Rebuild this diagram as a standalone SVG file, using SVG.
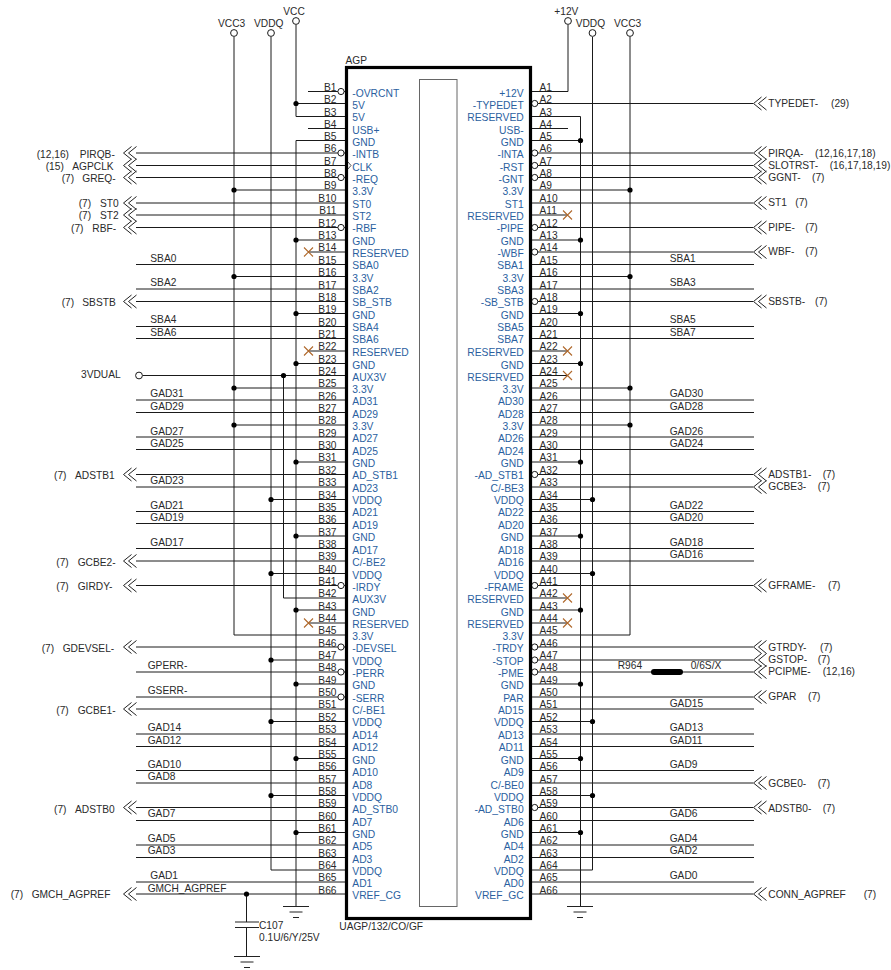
<svg xmlns="http://www.w3.org/2000/svg" width="891" height="970" viewBox="0 0 891 970">
<style>
text{font-family:"Liberation Sans",Arial,sans-serif;font-size:10.2px;fill:#2a2a2a}
.e{text-anchor:end}
.p{fill:#2b5f9f;font-size:10.3px}
.w{fill:none;stroke:#1a1a1a;stroke-width:1}
.x{fill:none;stroke:#b0692c;stroke-width:1.1}
.o{fill:#fff;stroke:#1a1a1a;stroke-width:1}
.h{fill:none;stroke:#222;stroke-width:1}
.d{fill:#000}
</style>
<defs>
<path id="chev" d="M8 -6.5L0 0L8 6.5M13 -6.5L5 0L13 6.5"/>
<circle id="bub" r="3.1"/>
<circle id="dot" r="2.6"/>
<path id="nc" d="M-4.5 -4.5L4.5 4.5M-4.5 4.5L4.5 -4.5"/>
<path id="gnd" d="M-13 0H13M-6.5 5.5H6.5M-3 11H3"/>
</defs>
<g id="connectors">
<path class="w" d="M234 37V635H345M271 37V870H345M296 25V116.5H345M296 103.5H345M296 140.5V906M296 140.5H345M283.5 375.5V598H345
M308 91.5H345M308 128.5H345M234 190H345M234 276.5H345M234 388H345M234 425H345
M296 240H345M296 313.5H345M296 363.5H345M296 462H345M296 536H345M296 610H345M296 684H345M296 758.5H345M296 832.5H345
M271 499.5H345M271 573.5H345M271 660H345M271 721.5H345M271 795.5H345
M308 252H345M308 351H345M308 623H345M142.5 375.5H345
M136 153H345M136 165.5H345M136 177.5H345M136 203H345M136 215H345M136 227.5H345M136 301.5H345M136 474.5H345M136 561H345M136 585.5H345M136 647H345M136 709H345M136 807.5H345M136 894H345
M136 264.5H345M136 289H345M136 326.5H345M136 338.5H345M136 400H345M136 412.5H345M136 437H345M136 449.5H345M136 487H345M136 511.5H345M136 523.5H345M136 548.5H345M136 672H345M136 697H345M136 734H345M136 746.5H345M136 770.5H345M136 783H345M136 820.5H345M136 845H345M136 857.5H345M136 882H345
M568 25V91.5H531M592.5 37V870H531M630 37V635H531M580.5 116.5V906M580.5 116.5H531
M531 128.5H568M531 140.5H580.5M531 240H580.5M531 313.5H580.5M531 363.5H580.5M531 462H580.5M531 536H580.5M531 610H580.5M531 684H580.5M531 758.5H580.5M531 832.5H580.5
M531 190H630M531 276.5H630M531 388H630M531 425H630
M531 499.5H592.5M531 573.5H592.5M531 721.5H592.5M531 795.5H592.5
M531 215H568M531 351H568M531 375.5H568M531 598H568M531 623H568
M531 103.5H753M531 153H753M531 165.5H753M531 177.5H753M531 203H753M531 227.5H753M531 252H753M531 301.5H753M531 474.5H753M531 487H753M531 585.5H753M531 647H753M531 660H753M531 672H753M531 697H753M531 783H753M531 807.5H753M531 894H753
M531 264.5H754M531 289H754M531 326.5H754M531 338.5H754M531 400H754M531 412.5H754M531 437H754M531 449.5H754M531 511.5H754M531 523.5H754M531 548.5H754M531 561H754M531 709H754M531 734H754M531 746.5H754M531 770.5H754M531 820.5H754M531 845H754M531 857.5H754M531 882H754
M246.5 894V922M246.5 927.5V956"/>
</g>
<g id="junctions" class="d">
<use href="#dot" x="296" y="103.5"/><use href="#dot" x="234" y="190"/><use href="#dot" x="234" y="276.5"/><use href="#dot" x="234" y="388"/><use href="#dot" x="234" y="425"/>
<use href="#dot" x="296" y="240"/><use href="#dot" x="296" y="313.5"/><use href="#dot" x="296" y="363.5"/><use href="#dot" x="296" y="462"/><use href="#dot" x="296" y="536"/><use href="#dot" x="296" y="610"/><use href="#dot" x="296" y="684"/><use href="#dot" x="296" y="758.5"/><use href="#dot" x="296" y="832.5"/>
<use href="#dot" x="271" y="499.5"/><use href="#dot" x="271" y="573.5"/><use href="#dot" x="271" y="660"/><use href="#dot" x="271" y="721.5"/><use href="#dot" x="271" y="795.5"/><use href="#dot" x="283.5" y="375.5"/>
<use href="#dot" x="580.5" y="140.5"/><use href="#dot" x="580.5" y="240"/><use href="#dot" x="580.5" y="313.5"/><use href="#dot" x="580.5" y="363.5"/><use href="#dot" x="580.5" y="462"/><use href="#dot" x="580.5" y="536"/><use href="#dot" x="580.5" y="610"/><use href="#dot" x="580.5" y="684"/><use href="#dot" x="580.5" y="758.5"/><use href="#dot" x="580.5" y="832.5"/>
<use href="#dot" x="630" y="190"/><use href="#dot" x="630" y="276.5"/><use href="#dot" x="630" y="388"/><use href="#dot" x="630" y="425"/>
<use href="#dot" x="592.5" y="499.5"/><use href="#dot" x="592.5" y="573.5"/><use href="#dot" x="592.5" y="721.5"/><use href="#dot" x="592.5" y="795.5"/>
<use href="#dot" x="246.5" y="894"/>
</g>
<g id="no-connects" class="x">
<use href="#nc" x="308.5" y="252"/><use href="#nc" x="308.5" y="351"/><use href="#nc" x="308.5" y="623"/>
<use href="#nc" x="567.5" y="215"/><use href="#nc" x="567.5" y="351"/><use href="#nc" x="567.5" y="375.5"/><use href="#nc" x="567.5" y="598"/><use href="#nc" x="567.5" y="623"/>
</g>
<g id="offpage-arrows" class="h">
<use href="#chev" x="123.5" y="153"/><use href="#chev" x="123.5" y="165.5"/><use href="#chev" x="123.5" y="177.5"/><use href="#chev" x="123.5" y="203"/><use href="#chev" x="123.5" y="215"/><use href="#chev" x="123.5" y="227.5"/><use href="#chev" x="123.5" y="301.5"/><use href="#chev" x="123.5" y="474.5"/><use href="#chev" x="123.5" y="561"/><use href="#chev" x="123.5" y="585.5"/><use href="#chev" x="123.5" y="647"/><use href="#chev" x="123.5" y="709"/><use href="#chev" x="123.5" y="807.5"/><use href="#chev" x="123.5" y="894"/>
<use href="#chev" x="753.5" y="103.5"/><use href="#chev" x="753.5" y="153"/><use href="#chev" x="753.5" y="165.5"/><use href="#chev" x="753.5" y="177.5"/><use href="#chev" x="753.5" y="203"/><use href="#chev" x="753.5" y="227.5"/><use href="#chev" x="753.5" y="252"/><use href="#chev" x="753.5" y="301.5"/><use href="#chev" x="753.5" y="474.5"/><use href="#chev" x="753.5" y="487"/><use href="#chev" x="753.5" y="585.5"/><use href="#chev" x="753.5" y="647"/><use href="#chev" x="753.5" y="660"/><use href="#chev" x="753.5" y="672"/><use href="#chev" x="753.5" y="697"/><use href="#chev" x="753.5" y="783"/><use href="#chev" x="753.5" y="807.5"/><use href="#chev" x="753.5" y="894"/>
</g>
<g id="U-AGP">
<g class="o">
<use href="#bub" x="341" y="91.5"/><use href="#bub" x="341" y="153"/><use href="#bub" x="341" y="177.5"/><use href="#bub" x="341" y="227.5"/><use href="#bub" x="341" y="585.5"/><use href="#bub" x="341" y="647"/><use href="#bub" x="341" y="672"/><use href="#bub" x="341" y="697"/>
<use href="#bub" x="534.7" y="103.5"/><use href="#bub" x="534.7" y="153"/><use href="#bub" x="534.7" y="165.5"/><use href="#bub" x="534.7" y="177.5"/><use href="#bub" x="534.7" y="227.5"/><use href="#bub" x="534.7" y="252"/><use href="#bub" x="534.7" y="301.5"/><use href="#bub" x="534.7" y="474.5"/><use href="#bub" x="534.7" y="585.5"/><use href="#bub" x="534.7" y="647"/><use href="#bub" x="534.7" y="660"/><use href="#bub" x="534.7" y="672"/><use href="#bub" x="534.7" y="807.5"/>
</g>
<rect x="346.5" y="67.5" width="184" height="851" fill="#fff" stroke="#000" stroke-width="3.2"/>
<rect x="419.5" y="79.5" width="37.5" height="827" fill="#fff" stroke="#666" stroke-width="1"/>
<path d="M348 162L351 165.5L348 169" fill="none" stroke="#222" stroke-width="0.8"/>
<text x="345.5" y="64">AGP</text>
<text x="339.3" y="930">UAGP/132/CO/GF</text>
<g class="pn">
<text class="e" x="336.5" y="91">B1</text><text class="e" x="336.5" y="103">B2</text><text class="e" x="336.5" y="116">B3</text><text class="e" x="336.5" y="128">B4</text><text class="e" x="336.5" y="140">B5</text><text class="e" x="336.5" y="152">B6</text><text class="e" x="336.5" y="165">B7</text><text class="e" x="336.5" y="177">B8</text><text class="e" x="336.5" y="189">B9</text><text class="e" x="336.5" y="202">B10</text><text class="e" x="336.5" y="214">B11</text><text class="e" x="336.5" y="227">B12</text><text class="e" x="336.5" y="239">B13</text><text class="e" x="336.5" y="251">B14</text><text class="e" x="336.5" y="264">B15</text><text class="e" x="336.5" y="276">B16</text><text class="e" x="336.5" y="289">B17</text><text class="e" x="336.5" y="301">B18</text><text class="e" x="336.5" y="313">B19</text><text class="e" x="336.5" y="326">B20</text><text class="e" x="336.5" y="338">B21</text><text class="e" x="336.5" y="350">B22</text><text class="e" x="336.5" y="363">B23</text><text class="e" x="336.5" y="375">B24</text><text class="e" x="336.5" y="387">B25</text><text class="e" x="336.5" y="400">B26</text><text class="e" x="336.5" y="412">B27</text><text class="e" x="336.5" y="424">B28</text><text class="e" x="336.5" y="437">B29</text><text class="e" x="336.5" y="449">B30</text><text class="e" x="336.5" y="461">B31</text><text class="e" x="336.5" y="474">B32</text><text class="e" x="336.5" y="486">B33</text><text class="e" x="336.5" y="499">B34</text><text class="e" x="336.5" y="511">B35</text><text class="e" x="336.5" y="523">B36</text><text class="e" x="336.5" y="536">B37</text><text class="e" x="336.5" y="548">B38</text><text class="e" x="336.5" y="560">B39</text><text class="e" x="336.5" y="573">B40</text><text class="e" x="336.5" y="585">B41</text><text class="e" x="336.5" y="597">B42</text><text class="e" x="336.5" y="610">B43</text><text class="e" x="336.5" y="622">B44</text><text class="e" x="336.5" y="634">B45</text><text class="e" x="336.5" y="647">B46</text><text class="e" x="336.5" y="659">B47</text><text class="e" x="336.5" y="671">B48</text><text class="e" x="336.5" y="684">B49</text><text class="e" x="336.5" y="696">B50</text><text class="e" x="336.5" y="708">B51</text><text class="e" x="336.5" y="721">B52</text><text class="e" x="336.5" y="733">B53</text><text class="e" x="336.5" y="746">B54</text><text class="e" x="336.5" y="758">B55</text><text class="e" x="336.5" y="770">B56</text><text class="e" x="336.5" y="783">B57</text><text class="e" x="336.5" y="795">B58</text><text class="e" x="336.5" y="807">B59</text><text class="e" x="336.5" y="820">B60</text><text class="e" x="336.5" y="832">B61</text><text class="e" x="336.5" y="844">B62</text><text class="e" x="336.5" y="857">B63</text><text class="e" x="336.5" y="869">B64</text><text class="e" x="336.5" y="881">B65</text><text class="e" x="336.5" y="894">B66</text>
<text x="539.5" y="91">A1</text><text x="539.5" y="103">A2</text><text x="539.5" y="116">A3</text><text x="539.5" y="128">A4</text><text x="539.5" y="140">A5</text><text x="539.5" y="152">A6</text><text x="539.5" y="165">A7</text><text x="539.5" y="177">A8</text><text x="539.5" y="189">A9</text><text x="539.5" y="202">A10</text><text x="539.5" y="214">A11</text><text x="539.5" y="227">A12</text><text x="539.5" y="239">A13</text><text x="539.5" y="251">A14</text><text x="539.5" y="264">A15</text><text x="539.5" y="276">A16</text><text x="539.5" y="289">A17</text><text x="539.5" y="301">A18</text><text x="539.5" y="313">A19</text><text x="539.5" y="326">A20</text><text x="539.5" y="338">A21</text><text x="539.5" y="350">A22</text><text x="539.5" y="363">A23</text><text x="539.5" y="375">A24</text><text x="539.5" y="387">A25</text><text x="539.5" y="400">A26</text><text x="539.5" y="412">A27</text><text x="539.5" y="424">A28</text><text x="539.5" y="437">A29</text><text x="539.5" y="449">A30</text><text x="539.5" y="461">A31</text><text x="539.5" y="474">A32</text><text x="539.5" y="486">A33</text><text x="539.5" y="499">A34</text><text x="539.5" y="511">A35</text><text x="539.5" y="523">A36</text><text x="539.5" y="536">A37</text><text x="539.5" y="548">A38</text><text x="539.5" y="560">A39</text><text x="539.5" y="573">A40</text><text x="539.5" y="585">A41</text><text x="539.5" y="597">A42</text><text x="539.5" y="610">A43</text><text x="539.5" y="622">A44</text><text x="539.5" y="634">A45</text><text x="539.5" y="647">A46</text><text x="539.5" y="659">A47</text><text x="539.5" y="671">A48</text><text x="539.5" y="684">A49</text><text x="539.5" y="696">A50</text><text x="539.5" y="708">A51</text><text x="539.5" y="721">A52</text><text x="539.5" y="733">A53</text><text x="539.5" y="746">A54</text><text x="539.5" y="758">A55</text><text x="539.5" y="770">A56</text><text x="539.5" y="783">A57</text><text x="539.5" y="795">A58</text><text x="539.5" y="807">A59</text><text x="539.5" y="820">A60</text><text x="539.5" y="832">A61</text><text x="539.5" y="844">A62</text><text x="539.5" y="857">A63</text><text x="539.5" y="869">A64</text><text x="539.5" y="881">A65</text><text x="539.5" y="894">A66</text>
</g>
<g>
<text class="p" x="352.3" y="97">-OVRCNT</text><text class="p" x="352.3" y="109">5V</text><text class="p" x="352.3" y="121">5V</text><text class="p" x="352.3" y="134">USB+</text><text class="p" x="352.3" y="146">GND</text><text class="p" x="352.3" y="158">-INTB</text><text class="p" x="352.3" y="171">CLK</text><text class="p" x="352.3" y="183">-REQ</text><text class="p" x="352.3" y="195">3.3V</text><text class="p" x="352.3" y="208">ST0</text><text class="p" x="352.3" y="220">ST2</text><text class="p" x="352.3" y="232">-RBF</text><text class="p" x="352.3" y="245">GND</text><text class="p" x="352.3" y="257">RESERVED</text><text class="p" x="352.3" y="269">SBA0</text><text class="p" x="352.3" y="282">3.3V</text><text class="p" x="352.3" y="294">SBA2</text><text class="p" x="352.3" y="306">SB_STB</text><text class="p" x="352.3" y="319">GND</text><text class="p" x="352.3" y="331">SBA4</text><text class="p" x="352.3" y="343">SBA6</text><text class="p" x="352.3" y="356">RESERVED</text><text class="p" x="352.3" y="369">GND</text><text class="p" x="352.3" y="381">AUX3V</text><text class="p" x="352.3" y="393">3.3V</text><text class="p" x="352.3" y="405">AD31</text><text class="p" x="352.3" y="418">AD29</text><text class="p" x="352.3" y="430">3.3V</text><text class="p" x="352.3" y="442">AD27</text><text class="p" x="352.3" y="455">AD25</text><text class="p" x="352.3" y="467">GND</text><text class="p" x="352.3" y="479">AD_STB1</text><text class="p" x="352.3" y="492">AD23</text><text class="p" x="352.3" y="504">VDDQ</text><text class="p" x="352.3" y="516">AD21</text><text class="p" x="352.3" y="529">AD19</text><text class="p" x="352.3" y="541">GND</text><text class="p" x="352.3" y="554">AD17</text><text class="p" x="352.3" y="566">C/-BE2</text><text class="p" x="352.3" y="579">VDDQ</text><text class="p" x="352.3" y="591">-IRDY</text><text class="p" x="352.3" y="603">AUX3V</text><text class="p" x="352.3" y="616">GND</text><text class="p" x="352.3" y="628">RESERVED</text><text class="p" x="352.3" y="640">3.3V</text><text class="p" x="352.3" y="652">-DEVSEL</text><text class="p" x="352.3" y="665">VDDQ</text><text class="p" x="352.3" y="677">-PERR</text><text class="p" x="352.3" y="689">GND</text><text class="p" x="352.3" y="702">-SERR</text><text class="p" x="352.3" y="714">C/-BE1</text><text class="p" x="352.3" y="726">VDDQ</text><text class="p" x="352.3" y="739">AD14</text><text class="p" x="352.3" y="751">AD12</text><text class="p" x="352.3" y="764">GND</text><text class="p" x="352.3" y="776">AD10</text><text class="p" x="352.3" y="789">AD8</text><text class="p" x="352.3" y="801">VDDQ</text><text class="p" x="352.3" y="813">AD_STB0</text><text class="p" x="352.3" y="826">AD7</text><text class="p" x="352.3" y="838">GND</text><text class="p" x="352.3" y="850">AD5</text><text class="p" x="352.3" y="863">AD3</text><text class="p" x="352.3" y="875">VDDQ</text><text class="p" x="352.3" y="887">AD1</text><text class="p" x="352.3" y="899">VREF_CG</text>
<text class="p e" x="523.7" y="97">+12V</text><text class="p e" x="523.7" y="109">-TYPEDET</text><text class="p e" x="523.7" y="121">RESERVED</text><text class="p e" x="523.7" y="134">USB-</text><text class="p e" x="523.7" y="146">GND</text><text class="p e" x="523.7" y="158">-INTA</text><text class="p e" x="523.7" y="171">-RST</text><text class="p e" x="523.7" y="183">-GNT</text><text class="p e" x="523.7" y="195">3.3V</text><text class="p e" x="523.7" y="208">ST1</text><text class="p e" x="523.7" y="220">RESERVED</text><text class="p e" x="523.7" y="232">-PIPE</text><text class="p e" x="523.7" y="245">GND</text><text class="p e" x="523.7" y="257">-WBF</text><text class="p e" x="523.7" y="269">SBA1</text><text class="p e" x="523.7" y="282">3.3V</text><text class="p e" x="523.7" y="294">SBA3</text><text class="p e" x="523.7" y="306">-SB_STB</text><text class="p e" x="523.7" y="319">GND</text><text class="p e" x="523.7" y="331">SBA5</text><text class="p e" x="523.7" y="343">SBA7</text><text class="p e" x="523.7" y="356">RESERVED</text><text class="p e" x="523.7" y="369">GND</text><text class="p e" x="523.7" y="381">RESERVED</text><text class="p e" x="523.7" y="393">3.3V</text><text class="p e" x="523.7" y="405">AD30</text><text class="p e" x="523.7" y="418">AD28</text><text class="p e" x="523.7" y="430">3.3V</text><text class="p e" x="523.7" y="442">AD26</text><text class="p e" x="523.7" y="455">AD24</text><text class="p e" x="523.7" y="467">GND</text><text class="p e" x="523.7" y="479">-AD_STB1</text><text class="p e" x="523.7" y="492">C/-BE3</text><text class="p e" x="523.7" y="504">VDDQ</text><text class="p e" x="523.7" y="516">AD22</text><text class="p e" x="523.7" y="529">AD20</text><text class="p e" x="523.7" y="541">GND</text><text class="p e" x="523.7" y="554">AD18</text><text class="p e" x="523.7" y="566">AD16</text><text class="p e" x="523.7" y="579">VDDQ</text><text class="p e" x="523.7" y="591">-FRAME</text><text class="p e" x="523.7" y="603">RESERVED</text><text class="p e" x="523.7" y="616">GND</text><text class="p e" x="523.7" y="628">RESERVED</text><text class="p e" x="523.7" y="640">3.3V</text><text class="p e" x="523.7" y="652">-TRDY</text><text class="p e" x="523.7" y="665">-STOP</text><text class="p e" x="523.7" y="677">-PME</text><text class="p e" x="523.7" y="689">GND</text><text class="p e" x="523.7" y="702">PAR</text><text class="p e" x="523.7" y="714">AD15</text><text class="p e" x="523.7" y="726">VDDQ</text><text class="p e" x="523.7" y="739">AD13</text><text class="p e" x="523.7" y="751">AD11</text><text class="p e" x="523.7" y="764">GND</text><text class="p e" x="523.7" y="776">AD9</text><text class="p e" x="523.7" y="789">C/-BE0</text><text class="p e" x="523.7" y="801">VDDQ</text><text class="p e" x="523.7" y="813">-AD_STB0</text><text class="p e" x="523.7" y="826">AD6</text><text class="p e" x="523.7" y="838">GND</text><text class="p e" x="523.7" y="850">AD4</text><text class="p e" x="523.7" y="863">AD2</text><text class="p e" x="523.7" y="875">VDDQ</text><text class="p e" x="523.7" y="887">AD0</text><text class="p e" x="523.7" y="899">VREF_GC</text>
</g>
</g>
<g id="power-left">
<circle class="o" cx="234" cy="33" r="3.4"/><text x="218" y="27.3">VCC3</text>
<circle class="o" cx="271" cy="33" r="3.4"/><text x="254" y="27.3">VDDQ</text>
<circle class="o" cx="296" cy="21" r="3.4"/><text x="283.3" y="15">VCC</text>
<circle class="o" cx="139" cy="375.5" r="3.4"/><text x="81" y="378">3VDUAL</text>
</g>
<g id="power-right">
<circle class="o" cx="568" cy="21" r="3.4"/><text x="554.3" y="15">+12V</text>
<circle class="o" cx="592.5" cy="33" r="3.4"/><text x="575.7" y="27.3">VDDQ</text>
<circle class="o" cx="630" cy="33" r="3.4"/><text x="614" y="27.3">VCC3</text>
</g>
<g id="grounds" class="h">
<use href="#gnd" x="296" y="906.5"/><use href="#gnd" x="580" y="906.5"/><use href="#gnd" x="247" y="956.5"/>
</g>
<g id="C107">
<path d="M235 922H259M235 927.5H259" fill="none" stroke="#222" stroke-width="1.2"/>
<text x="259" y="929.3">C107</text><text x="259" y="941.3">0.1U/6/Y/25V</text>
</g>
<g id="R964">
<path d="M654 672H680" fill="none" stroke="#000" stroke-width="6" stroke-linecap="round"/>
<text x="617.7" y="669.3">R964</text><text x="690.7" y="669.3">0/6S/X</text>
</g>
<g id="labels-left">
<text x="36.7" y="158.3">(12,16)</text><text x="79.7" y="158.3">PIRQB-</text>
<text x="45.7" y="170">(15)</text><text x="72.3" y="170">AGPCLK</text>
<text x="61.7" y="182">(7)</text><text x="82.3" y="182">GREQ-</text>
<text x="78.7" y="207">(7)</text><text x="100" y="207">ST0</text>
<text x="78.7" y="219.3">(7)</text><text x="100" y="219.3">ST2</text>
<text x="71" y="232">(7)</text><text x="92.3" y="232">RBF-</text>
<text x="150.3" y="261.7">SBA0</text><text x="150.3" y="286">SBA2</text>
<text x="61.7" y="306">(7)</text><text x="82.3" y="306">SBSTB</text>
<text x="150.3" y="323">SBA4</text><text x="150.3" y="336">SBA6</text>
<text x="150.3" y="397">GAD31</text><text x="150.3" y="410">GAD29</text><text x="150.3" y="434.7">GAD27</text><text x="150.3" y="447">GAD25</text>
<text x="54" y="479">(7)</text><text x="75" y="479">ADSTB1</text>
<text x="150.3" y="484">GAD23</text><text x="150.3" y="508.7">GAD21</text><text x="150.3" y="521">GAD19</text><text x="150.3" y="545.7">GAD17</text>
<text x="56.3" y="566">(7)</text><text x="77.7" y="566">GCBE2-</text>
<text x="56.3" y="590">(7)</text><text x="77.7" y="590">GIRDY-</text>
<text x="41.7" y="652">(7)</text><text x="62.7" y="652">GDEVSEL-</text>
<text x="147.7" y="669">GPERR-</text><text x="147.7" y="694">GSERR-</text>
<text x="56.3" y="714">(7)</text><text x="77.7" y="714">GCBE1-</text>
<text x="147.7" y="731">GAD14</text><text x="147.7" y="744">GAD12</text><text x="147.7" y="768">GAD10</text><text x="147.7" y="780">GAD8</text>
<text x="54" y="813.3">(7)</text><text x="75" y="813.3">ADSTB0</text>
<text x="147.7" y="817">GAD7</text><text x="147.7" y="842">GAD5</text><text x="147.7" y="854">GAD3</text><text x="150.3" y="879">GAD1</text><text x="147.7" y="892">GMCH_AGPREF</text>
<text x="10.7" y="898">(7)</text><text x="31.7" y="898">GMCH_AGPREF</text>
</g>
<g id="labels-right">
<text x="768.3" y="107.3">TYPEDET-</text><text x="831" y="107.3">(29)</text>
<text x="768.3" y="157">PIRQA-</text><text x="815" y="157">(12,16,17,18)</text>
<text x="768.3" y="169">SLOTRST-</text><text x="829.7" y="169">(16,17,18,19)</text>
<text x="768.3" y="181">GGNT-</text><text x="812" y="181">(7)</text>
<text x="768.3" y="206">ST1</text><text x="795.3" y="206">(7)</text>
<text x="768.3" y="231">PIPE-</text><text x="805.3" y="231">(7)</text>
<text x="768.3" y="255">WBF-</text><text x="805.3" y="255">(7)</text>
<text x="669.7" y="261.7">SBA1</text><text x="669.7" y="286">SBA3</text>
<text x="768.3" y="305">SBSTB-</text><text x="815" y="305">(7)</text>
<text x="669.7" y="323">SBA5</text><text x="669.7" y="336">SBA7</text>
<text x="669.7" y="397">GAD30</text><text x="669.7" y="410">GAD28</text><text x="669.7" y="434.7">GAD26</text><text x="669.7" y="447">GAD24</text>
<text x="768.3" y="478">ADSTB1-</text><text x="822.7" y="478">(7)</text>
<text x="768.3" y="490">GCBE3-</text><text x="817.7" y="490">(7)</text>
<text x="669.7" y="508.7">GAD22</text><text x="669.7" y="521">GAD20</text><text x="669.7" y="545.7">GAD18</text><text x="669.7" y="558">GAD16</text>
<text x="768.3" y="589">GFRAME-</text><text x="828" y="589">(7)</text>
<text x="768.3" y="651">GTRDY-</text><text x="820" y="651">(7)</text>
<text x="768.3" y="663">GSTOP-</text><text x="817.7" y="663">(7)</text>
<text x="768.3" y="675">PCIPME-</text><text x="822.7" y="675">(12,16)</text>
<text x="768.3" y="700">GPAR</text><text x="808" y="700">(7)</text>
<text x="669.7" y="707">GAD15</text><text x="669.7" y="731">GAD13</text><text x="669.7" y="744">GAD11</text><text x="669.7" y="768">GAD9</text>
<text x="768.3" y="787">GCBE0-</text><text x="817.7" y="787">(7)</text>
<text x="768.3" y="812">ADSTB0-</text><text x="822.7" y="812">(7)</text>
<text x="669.7" y="817">GAD6</text><text x="669.7" y="842">GAD4</text><text x="669.7" y="854">GAD2</text><text x="669.7" y="879">GAD0</text>
<text x="768.3" y="898">CONN_AGPREF</text><text x="863.7" y="898">(7)</text>
</g>
</svg>
